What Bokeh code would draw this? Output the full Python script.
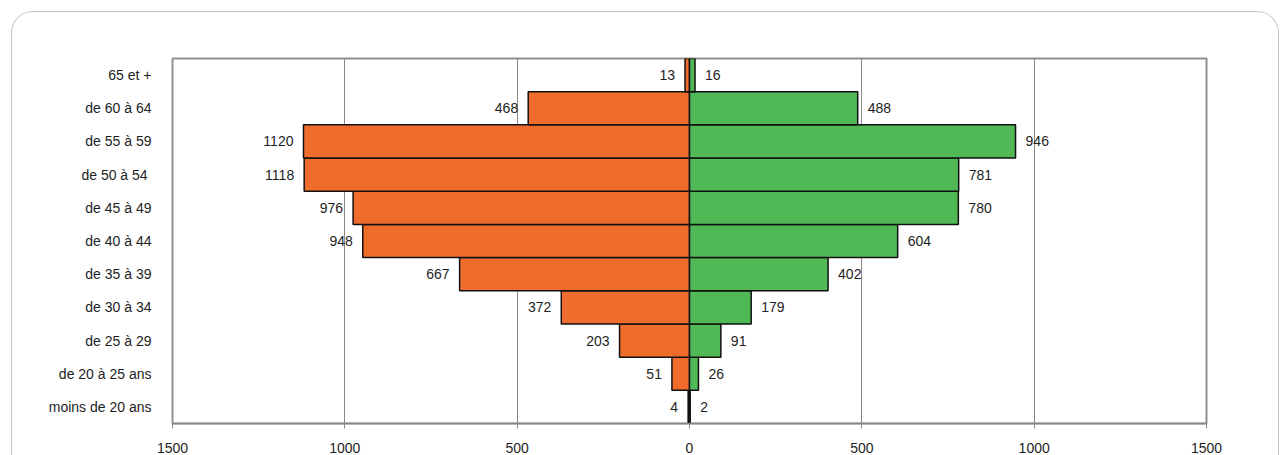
from bokeh.plotting import figure
from bokeh.models import ColumnDataSource, FactorRange, FixedTicker
from bokeh.core.properties import value
from bokeh.embed import file_html
from bokeh.resources import INLINE

# Age groups, bottom to top
age_groups = ["moins de 20 ans", "de 20 à 25 ans", "de 25 à 29", "de 30 à 34",
              "de 35 à 39", "de 40 à 44", "de 45 à 49", "de 50 à 54 ",
              "de 55 à 59", "de 60 à 64", "65 et +"]
orange_values = [4, 51, 203, 372, 667, 948, 976, 1118, 1120, 468, 13]
green_values = [2, 26, 91, 179, 402, 604, 780, 781, 946, 488, 16]
x_ticks = [-1500, -1000, -500, 0, 500, 1000, 1500]
x_tick_labels = ["1500", "1000", "500", "0", "500", "1000", "1500"]

FONT = "Liberation Sans"
FS = "14px"
TXT = "#1e1e1e"

src = ColumnDataSource(dict(
    age=age_groups,
    neg=[-v for v in orange_values],
    pos=green_values,
    zero=[0] * len(age_groups),
    olab=[str(v) for v in orange_values],
    glab=[str(v) for v in green_values],
))

p = figure(
    y_range=FactorRange(factors=age_groups, range_padding=0),
    x_range=(-1500, 1500),
    frame_width=1034, frame_height=365,
    min_border_left=160, min_border_right=72, min_border_top=46, min_border_bottom=32,
    output_backend="svg", toolbar_location=None,
    background_fill_color="white", border_fill_color="white",
)
p.margin = (11, 0, 0, 11)
p.styles = {"border": "1px solid #c4c4c8", "border-bottom": "none",
            "border-radius": "22px 22px 0 0", "overflow": "hidden"}

p.hbar(y="age", left="neg", right="zero", height=1.0, source=src,
       fill_color="#f06c2c", line_color="#111111", line_width=1.5)
p.hbar(y="age", left="zero", right="pos", height=1.0, source=src,
       fill_color="#50b855", line_color="#111111", line_width=1.5)

p.text(x="neg", y="age", text="olab", source=src, x_offset=-10,
       text_align="right", text_baseline="middle",
       text_font=value(FONT), text_font_size=FS, text_color=TXT)
p.text(x="pos", y="age", text="glab", source=src, x_offset=10,
       text_align="left", text_baseline="middle",
       text_font=value(FONT), text_font_size=FS, text_color=TXT)

# grid
p.ygrid.grid_line_color = None
p.xgrid.ticker = FixedTicker(ticks=x_ticks)
p.xgrid.grid_line_color = "#8c8686"
p.xgrid.grid_line_width = 1
p.outline_line_color = "#948e8e"
p.outline_line_width = 2

# x axis
p.xaxis.ticker = FixedTicker(ticks=x_ticks)
p.xaxis.major_label_overrides = {t: l for t, l in zip(x_ticks, x_tick_labels)}
p.xaxis.axis_line_color = "#8c8686"
p.xaxis.axis_line_width = 1.5
p.xaxis.major_tick_line_color = "#8c8686"
p.xaxis.major_tick_out = 5
p.xaxis.major_tick_in = 0
p.xaxis.minor_tick_line_color = None
p.xaxis.major_label_standoff = 14
p.xaxis.major_label_text_font = FONT
p.xaxis.major_label_text_font_size = FS
p.xaxis.major_label_text_color = TXT

# y axis
p.yaxis.axis_line_color = None
p.yaxis.major_tick_line_color = None
p.yaxis.minor_tick_line_color = None
p.yaxis.major_label_standoff = 15
p.yaxis.major_label_text_font = FONT
p.yaxis.major_label_text_font_size = FS
p.yaxis.major_label_text_color = TXT

html = file_html(p, INLINE)
html = html.replace("<body>", '<body style="background:#e6e8ec;margin:0;overflow:hidden">', 1)
open("out.html", "w").write(html)
